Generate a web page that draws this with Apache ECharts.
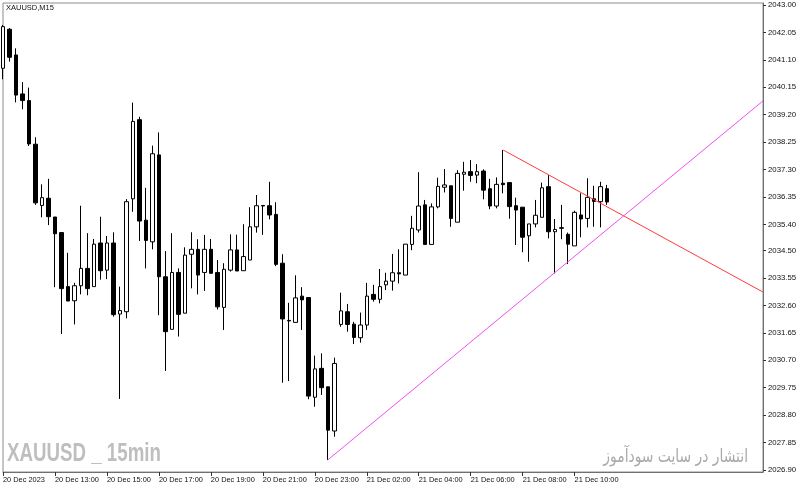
<!DOCTYPE html>
<html>
<head>
<meta charset="utf-8">
<script src="https://cdn.jsdelivr.net/npm/echarts@6/dist/echarts.min.js"></script>
<style>
  html, body { margin: 0; padding: 0; background: #fff; }
  #chart { width: 800px; height: 490px; }
</style>
</head>
<body>
<div id="chart"></div>
<script>
// XAUUSD M15 candles, 20 Dec 11:00 -> 21 Dec 11:15
var opens = [2040.81, 2042.16, 2041.27, 2039.92, 2039.69, 2038.18, 2036.06, 2036.31, 2035.66, 2035.12,
    2033.25, 2032.76, 2033.28, 2033.88, 2033.25, 2034.76, 2033.82, 2034.76, 2032.30, 2032.38,
    2036.29, 2039.03, 2035.55, 2034.80, 2037.81, 2033.59, 2031.77, 2033.74, 2032.33, 2034.37,
    2034.54, 2033.74, 2034.54, 2033.74, 2032.53, 2033.82, 2034.52, 2033.80, 2034.17, 2035.32,
    2036.04, 2036.05, 2035.75, 2034.06, 2032.08, 2032.01, 2032.92, 2032.87, 2029.42, 2030.42,
    2029.78, 2028.25, 2031.94, 2032.38, 2031.95, 2031.48, 2031.92, 2032.98, 2032.81, 2033.31,
    2033.44, 2033.73, 2033.65, 2034.71, 2035.21, 2036.08, 2034.71, 2036.01, 2036.69, 2036.74,
    2035.48, 2037.14, 2037.23, 2037.11, 2037.25, 2036.64, 2036.04, 2036.83, 2036.85, 2036.05,
    2036.00, 2035.01, 2035.42, 2035.65, 2036.71, 2035.15, 2035.29, 2035.06, 2034.66, 2035.73,
    2035.61, 2036.29, 2036.19, 2036.64];
var closes = [2042.25, 2041.19, 2039.88, 2039.69, 2038.19, 2036.15, 2036.33, 2035.67, 2035.08, 2033.18,
    2032.75, 2033.28, 2033.88, 2033.18, 2034.72, 2033.80, 2034.76, 2032.28, 2032.42, 2036.19,
    2038.97, 2035.52, 2034.85, 2037.85, 2033.59, 2031.69, 2033.74, 2032.29, 2034.34, 2034.54,
    2033.65, 2034.54, 2033.71, 2032.55, 2033.85, 2034.52, 2033.79, 2034.29, 2035.32, 2036.05,
    2036.06, 2035.73, 2034.02, 2032.13, 2032.06, 2032.86, 2032.79, 2029.46, 2030.40, 2029.75,
    2028.28, 2030.59, 2032.41, 2031.94, 2031.49, 2031.92, 2032.92, 2032.81, 2033.25, 2033.44,
    2033.73, 2033.69, 2034.72, 2035.27, 2036.04, 2034.71, 2036.01, 2036.72, 2036.77, 2035.61,
    2037.17, 2037.21, 2037.10, 2037.23, 2036.59, 2036.04, 2036.79, 2036.78, 2036.02, 2035.90,
    2034.96, 2035.42, 2035.72, 2036.67, 2035.15, 2035.23, 2035.27, 2034.72, 2035.82, 2035.59,
    2036.34, 2036.20, 2036.71, 2036.18];
var lows = [2040.43, 2041.04, 2039.63, 2039.39, 2038.12, 2036.08, 2035.65, 2035.38, 2033.23, 2031.61,
    2032.75, 2031.94, 2032.98, 2032.95, 2033.25, 2033.49, 2033.51, 2032.21, 2029.36, 2032.15,
    2035.84, 2034.83, 2033.88, 2034.54, 2032.26, 2030.33, 2031.77, 2031.52, 2032.33, 2033.19,
    2032.98, 2033.10, 2033.71, 2032.46, 2031.75, 2033.77, 2033.79, 2033.80, 2034.17, 2035.12,
    2035.04, 2035.58, 2033.96, 2029.92, 2029.98, 2032.01, 2031.75, 2029.35, 2029.09, 2029.50,
    2027.25, 2028.05, 2031.86, 2031.69, 2031.26, 2031.31, 2031.75, 2032.73, 2032.67, 2033.13,
    2033.11, 2033.36, 2033.65, 2034.51, 2035.12, 2034.71, 2034.71, 2035.96, 2036.51, 2035.32,
    2035.48, 2036.57, 2036.88, 2036.83, 2036.27, 2035.93, 2035.96, 2036.48, 2035.60, 2034.69,
    2034.44, 2034.11, 2035.30, 2035.65, 2034.92, 2033.71, 2034.89, 2034.03, 2034.66, 2034.96,
    2035.30, 2035.32, 2035.30, 2036.08];
var highs = [2042.31, 2042.20, 2041.50, 2040.33, 2040.14, 2038.42, 2036.79, 2036.98, 2035.66, 2035.12,
    2034.42, 2033.38, 2036.05, 2035.10, 2034.90, 2035.67, 2035.00, 2035.13, 2033.25, 2036.28,
    2039.62, 2039.13, 2036.67, 2038.13, 2038.59, 2034.48, 2035.10, 2033.88, 2034.61, 2035.13,
    2034.89, 2035.04, 2034.90, 2034.17, 2034.06, 2035.06, 2035.05, 2035.41, 2036.00, 2036.42,
    2036.06, 2036.88, 2036.17, 2034.37, 2032.69, 2033.64, 2033.23, 2032.87, 2030.86, 2030.94,
    2029.78, 2030.79, 2033.04, 2032.65, 2032.03, 2032.35, 2033.38, 2033.31, 2033.86, 2033.73,
    2034.38, 2034.54, 2034.72, 2035.70, 2037.21, 2036.25, 2036.13, 2037.02, 2037.32, 2036.74,
    2037.28, 2037.57, 2037.63, 2037.49, 2037.31, 2036.98, 2037.03, 2037.98, 2036.85, 2036.33,
    2036.00, 2035.42, 2036.25, 2036.85, 2037.11, 2035.59, 2036.08, 2035.12, 2035.88, 2036.48,
    2037.00, 2036.74, 2036.88, 2036.77];

// one time label every 8 bars (2 hours)
var xTickLabels = ['20 Dec 2023', '20 Dec 13:00', '20 Dec 15:00', '20 Dec 17:00', '20 Dec 19:00',
    '20 Dec 21:00', '20 Dec 23:00', '21 Dec 02:00', '21 Dec 04:00', '21 Dec 06:00',
    '21 Dec 08:00', '21 Dec 10:00'];
var yTickLabels = ['2026.90', '2027.85', '2028.80', '2029.75', '2030.70', '2031.65', '2032.60',
    '2033.55', '2034.50', '2035.40', '2036.35', '2037.30', '2038.25', '2039.20', '2040.15',
    '2041.10', '2042.05', '2043.00'];

// trend lines: [bar index, price]
var resistLine = [[77, 2037.98], [117, 2033.06]];
var supportLine = [[50, 2027.25], [117, 2039.68]];

var totalSlots = 118; // bars + chart shift on the right

var slots = [];
for (var i = 0; i < totalSlots; i++) slots.push(String(i));
var candles = opens.map(function (o, i) {
    return [o, closes[i], lows[i], highs[i]];
});
function isTick(index) {
    return index % 8 === 0 && index / 8 < xTickLabels.length;
}

var myChart = echarts.init(document.getElementById('chart'));
option = {
    animation: false,
    backgroundColor: '#fff',
    textStyle: { fontFamily: 'Liberation Sans' },
    grid: {
        left: 2,
        right: 37,
        top: 3,
        bottom: 18,
        show: true,
        borderColor: '#8c8c8c',
        borderWidth: 1
    },
    xAxis: {
        type: 'category',
        data: slots,
        boundaryGap: false,
        axisLine: { lineStyle: { color: '#6f6f6f' } },
        axisTick: {
            show: true,
            interval: isTick,
            length: 4,
            lineStyle: { color: '#333' }
        },
        axisLabel: {
            interval: isTick,
            align: 'left',
            margin: 4,
            fontSize: 7.4,
            color: '#111',
            formatter: function (v, idx) {
                return xTickLabels[idx / 8] || '';
            }
        },
        splitLine: { show: false }
    },
    yAxis: {
        type: 'value',
        position: 'right',
        min: 2026.831,
        max: 2043.069,
        scale: true,
        axisLine: { show: true, lineStyle: { color: '#6f6f6f' } },
        axisTick: {
            show: true,
            length: 3,
            customValues: yTickLabels.map(Number),
            lineStyle: { color: '#333' }
        },
        axisLabel: {
            customValues: yTickLabels.map(Number),
            margin: 5,
            fontSize: 7.8,
            color: '#111',
            formatter: function (v) {
                return v.toFixed(2);
            }
        },
        splitLine: { show: false }
    },
    graphic: [{
        type: 'text',
        x: 6,
        y: 8,
        style: {
            text: 'XAUUSD,M15',
            font: '7.5px "Liberation Sans"',
            fill: '#111',
            verticalAlign: 'middle'
        }
    }, {
        type: 'text',
        x: 7,
        y: 467,
        scaleX: 0.72,
        style: {
            text: 'XAUUSD _ 15min',
            font: 'bold 26px "Liberation Sans"',
            fill: '#bebebe',
            verticalAlign: 'bottom'
        }
    }, {
        type: 'text',
        x: 748,
        y: 457,
        scaleX: 0.77,
        style: {
            text: 'انتشار در سایت سودآموز',
            font: '18px "DejaVu Sans"',
            fill: '#a9a9a9',
            align: 'right',
            verticalAlign: 'middle'
        }
    }],
    series: [{
        type: 'candlestick',
        data: candles,
        barWidth: 4,
        clip: true,
        itemStyle: {
            color: '#ffffff',
            color0: '#000000',
            borderColor: '#000000',
            borderColor0: '#000000',
            borderColorDoji: '#000000',
            borderWidth: 1
        }
    }, {
        type: 'line',
        data: resistLine,
        symbol: 'none',
        silent: true,
        lineStyle: { color: '#ff3b3b', width: 1 }
    }, {
        type: 'line',
        data: supportLine,
        symbol: 'none',
        silent: true,
        lineStyle: { color: '#f050f0', width: 1 }
    }]
};
myChart.setOption(option);
</script>
</body>
</html>
